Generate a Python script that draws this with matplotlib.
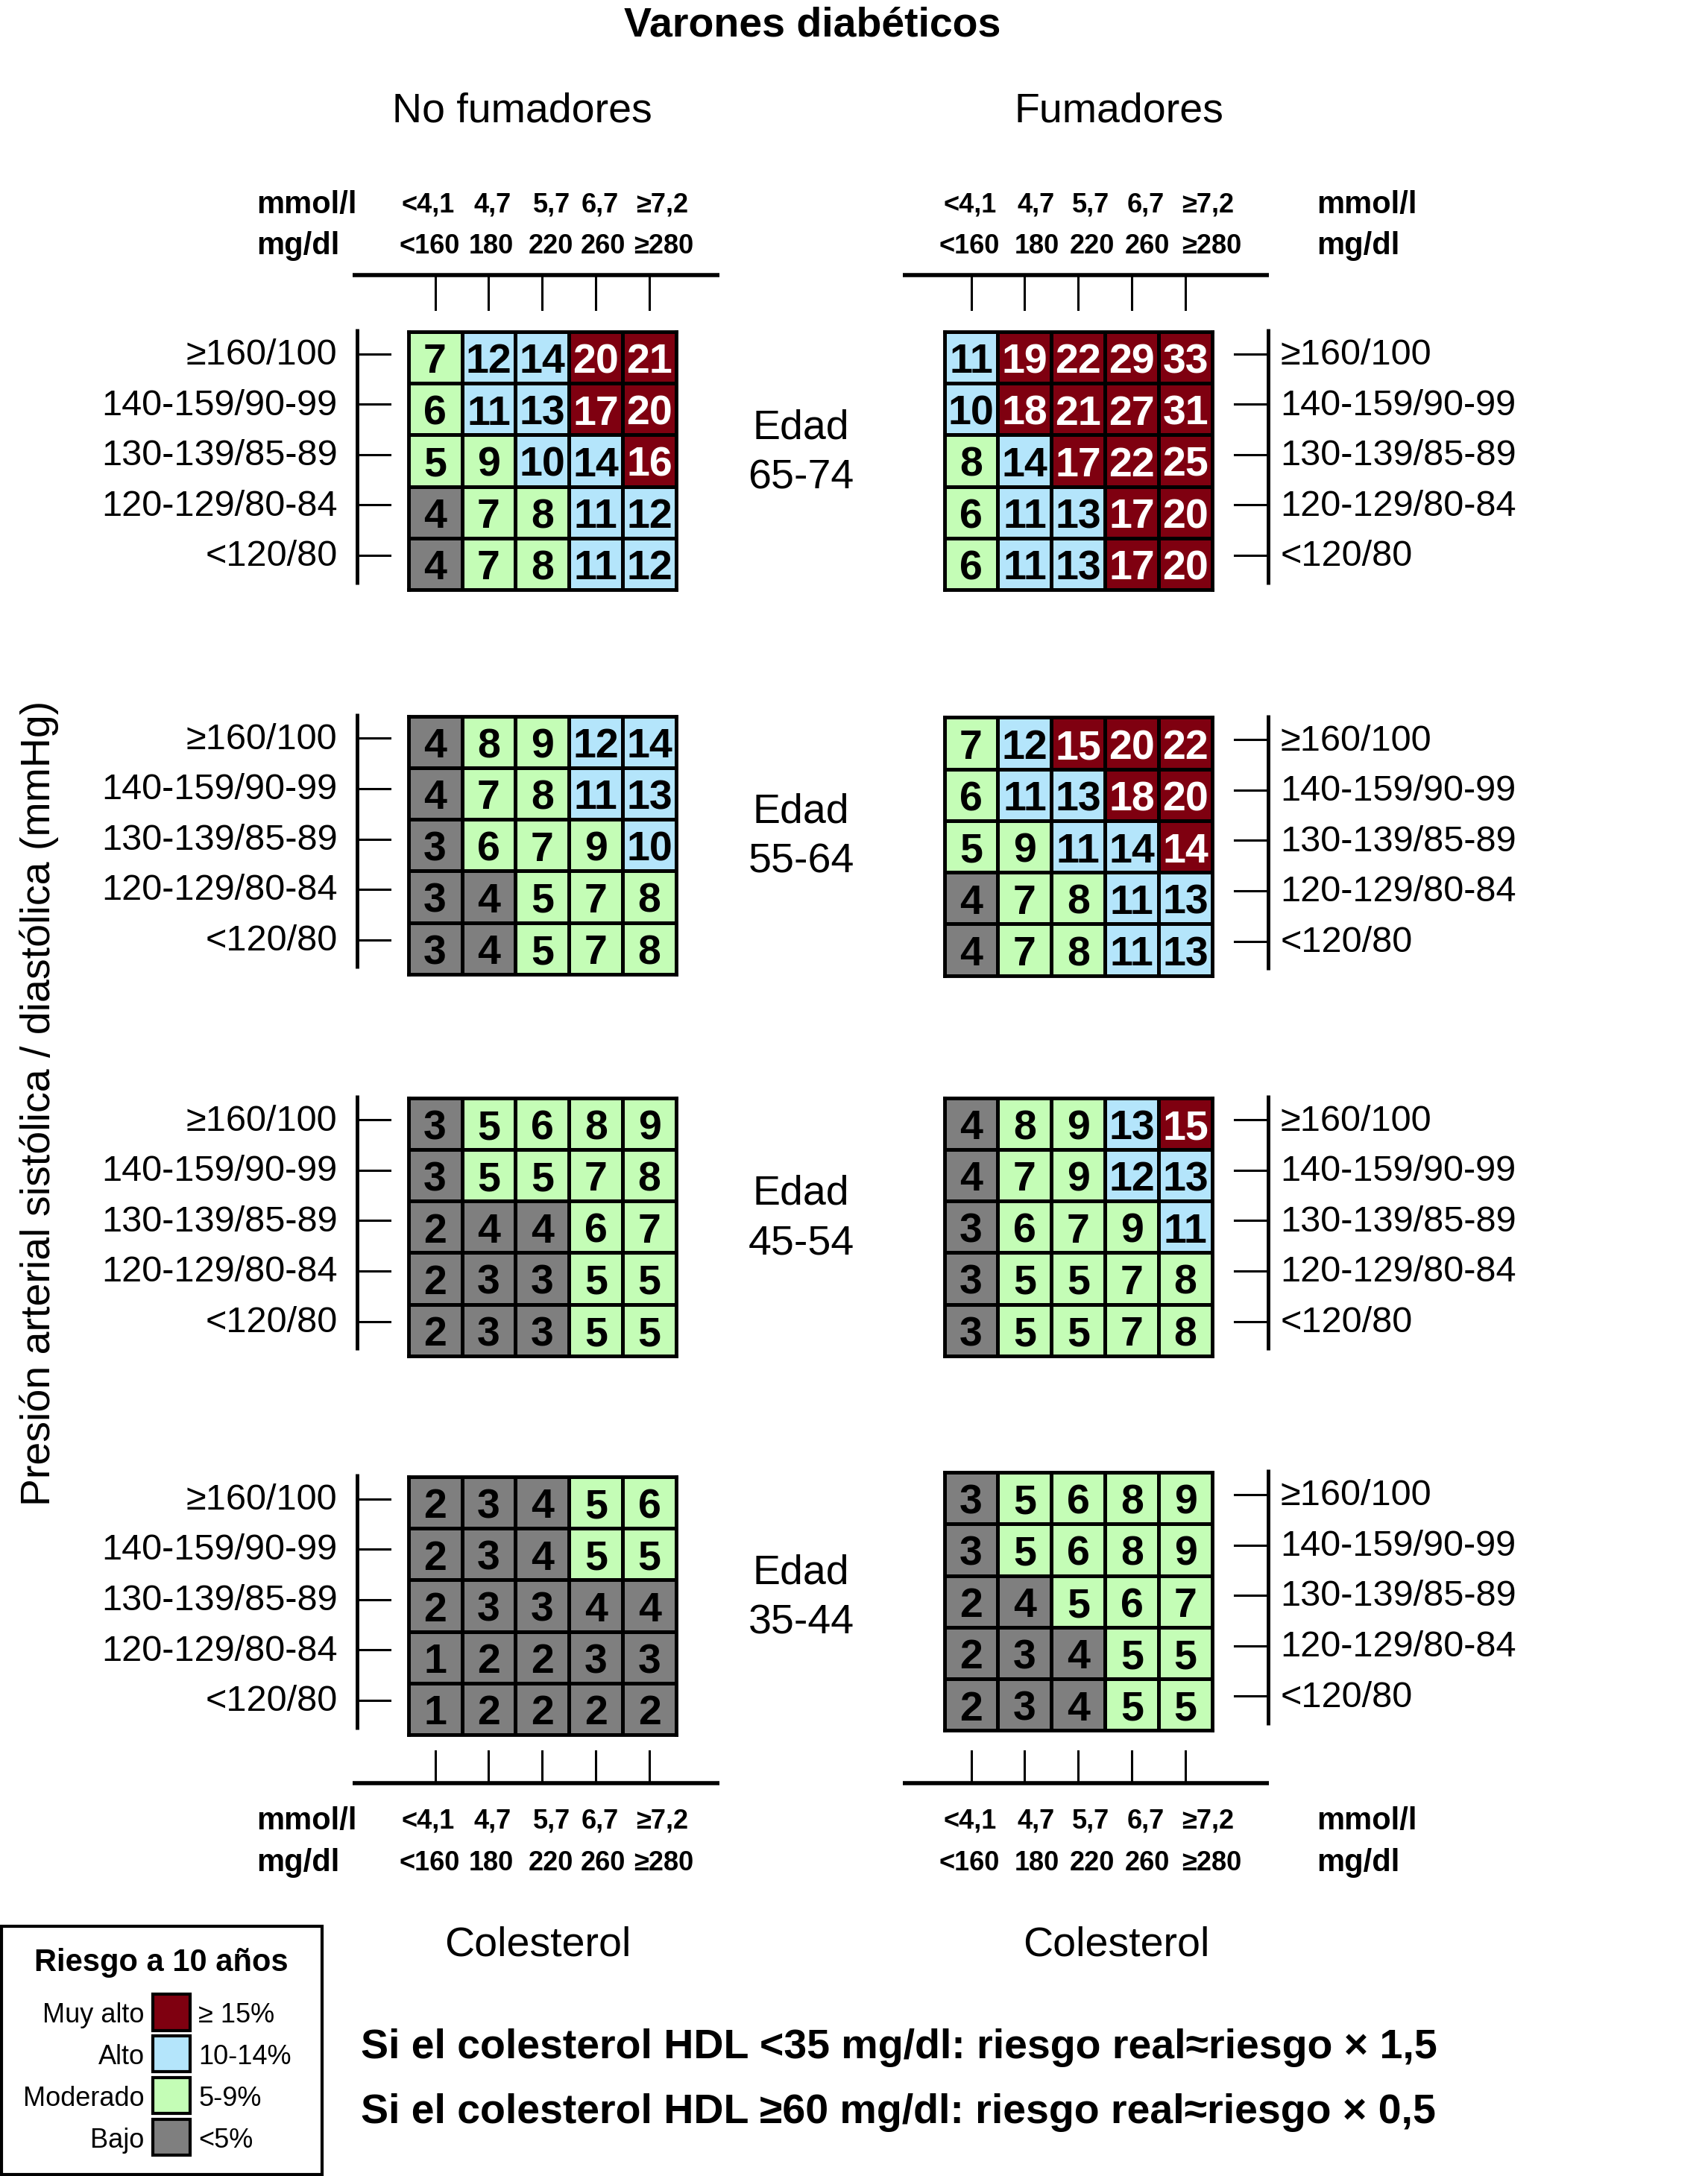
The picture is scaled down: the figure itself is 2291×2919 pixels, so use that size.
import numpy as np
import matplotlib.pyplot as plt
from matplotlib.colors import ListedColormap

plt.rcParams['font.family'] = ['Liberation Sans', 'DejaVu Sans']

ages = ["65-74", "55-64", "45-54", "35-44"]
bp_labels = ["≥160/100", "140-159/90-99", "130-139/85-89", "120-129/80-84", "<120/80"]
mmol_labels = ["<4,1", "4,7", "5,7", "6,7", "≥7,2"]
mgdl_labels = ["<160", "180", "220", "260", "≥280"]

# risk values, rows from >=160/100 down to <120/80, columns by cholesterol
nofum_65_74 = [[7, 12, 14, 20, 21], [6, 11, 13, 17, 20], [5, 9, 10, 14, 16], [4, 7, 8, 11, 12], [4, 7, 8, 11, 12]]
nofum_55_64 = [[4, 8, 9, 12, 14], [4, 7, 8, 11, 13], [3, 6, 7, 9, 10], [3, 4, 5, 7, 8], [3, 4, 5, 7, 8]]
nofum_45_54 = [[3, 5, 6, 8, 9], [3, 5, 5, 7, 8], [2, 4, 4, 6, 7], [2, 3, 3, 5, 5], [2, 3, 3, 5, 5]]
nofum_35_44 = [[2, 3, 4, 5, 6], [2, 3, 4, 5, 5], [2, 3, 3, 4, 4], [1, 2, 2, 3, 3], [1, 2, 2, 2, 2]]

fum_65_74 = [[11, 19, 22, 29, 33], [10, 18, 21, 27, 31], [8, 14, 17, 22, 25], [6, 11, 13, 17, 20], [6, 11, 13, 17, 20]]
fum_55_64 = [[7, 12, 15, 20, 22], [6, 11, 13, 18, 20], [5, 9, 11, 14, 14], [4, 7, 8, 11, 13], [4, 7, 8, 11, 13]]
fum_45_54 = [[4, 8, 9, 13, 15], [4, 7, 9, 12, 13], [3, 6, 7, 9, 11], [3, 5, 5, 7, 8], [3, 5, 5, 7, 8]]
fum_35_44 = [[3, 5, 6, 8, 9], [3, 5, 6, 8, 9], [2, 4, 5, 6, 7], [2, 3, 4, 5, 5], [2, 3, 4, 5, 5]]

# one cell in the original is coloured "muy alto" although it reads 14
fum_55_64_red = [(2, 4)]

risk_names = ["Muy alto", "Alto", "Moderado", "Bajo"]
risk_ranges = ["≥ 15%", "10-14%", "5-9%", "<5%"]
risk_colors = ["#7f0010", "#b4e5fb", "#c4fdb6", "#7f7f7f"]

hdl_notes = ["Si el colesterol HDL <35 mg/dl: riesgo real≈riesgo × 1,5",
             "Si el colesterol HDL ≥60 mg/dl: riesgo real≈riesgo × 0,5"]

# layout, in units of a 1230 x 1568 canvas
W, H = 1230, 1568
dy = 2.5  # text sits a little lower than matplotlib's centre
fig = plt.figure(figsize=(22.91, 29.19), dpi=100)
bg = fig.add_axes([0, 0, 1, 1])
bg.set_xlim(0, W)
bg.set_ylim(H, 0)
bg.axis('off')

cmap = ListedColormap(risk_colors[::-1])
gw, gh = 193, 186
cw = gw / 5.0
sides = [
    dict(x0=294, tops=[239, 516, 791, 1064], grids=[nofum_65_74, nofum_55_64, nofum_45_54, nofum_35_44],
         axis_x=257, tick_dir=1, lab_x=243, lab_ha='right', line=(254, 518),
         mmol_dx=[-5, 3, 7, 3, 9], mg_dx=[-4, 2, 6, 5, 10], unit_x=185, title="No fumadores", title_x=376,
         col_x=387),
    dict(x0=680, tops=[239, 517, 791, 1061], grids=[fum_65_74, fum_55_64, fum_45_54, fum_35_44],
         axis_x=913, tick_dir=-1, lab_x=922, lab_ha='left', line=(650, 914),
         mmol_dx=[-1, 8, 9, 10, 16], mg_dx=[-1, 9, 10, 11, 19], unit_x=948, title="Fumadores", title_x=806,
         col_x=804),
]
overrides = {(1, 1): fum_55_64_red}

for si, s in enumerate(sides):
    for gi, grid in enumerate(s['grids']):
        vals = np.array(grid)
        lvl = np.digitize(vals, [5, 10, 15])
        for (r, c) in overrides.get((si, gi), []):
            lvl[r, c] = 3
        top = s['tops'][gi]
        ax = fig.add_axes([s['x0'] / W, 1 - (top + gh) / H, gw / W, gh / H])
        ax.pcolormesh(lvl, cmap=cmap, vmin=-0.5, vmax=3.5, edgecolors='black', linewidth=2.5)
        ax.set_xlim(0, 5)
        ax.set_ylim(5, 0)
        ax.set_xticks([])
        ax.set_yticks([])
        for sp in ax.spines.values():
            sp.set_linewidth(3.5)
        for r in range(5):
            for c in range(5):
                ax.text(c + 0.5, r + 0.6, str(vals[r, c]), ha='center', va='center',
                        fontsize=40, fontweight='bold', color='white' if lvl[r, c] == 3 else 'black')
        # blood pressure axis
        ax_x = s['axis_x']
        bg.plot([ax_x, ax_x], [top - 2, top + 182], color='black', lw=3.5, solid_capstyle='butt')
        for r in range(5):
            ty = top + 16 + r * 36.3
            bg.plot([ax_x, ax_x + s['tick_dir'] * 24], [ty, ty], color='black', lw=2.2)
            bg.text(s['lab_x'], ty + 1, bp_labels[r], ha=s['lab_ha'], va='center', fontsize=35)
        if si == 0:
            bg.text(577, top + 67 + dy, "Edad", ha='center', va='center', fontsize=40)
            bg.text(577, top + 103 + dy, ages[gi], ha='center', va='center', fontsize=40)

    # cholesterol axes, top and bottom
    col_c = [s['x0'] + cw * (c + 0.5) for c in range(5)]
    for line_y, t0, t1, y_mm, y_mg in [(198, 200, 223, 145, 175), (1285, 1262, 1284, 1310, 1340)]:
        bg.plot(list(s['line']), [line_y, line_y], color='black', lw=4, solid_capstyle='butt')
        for c in range(5):
            bg.plot([col_c[c], col_c[c]], [t0, t1], color='black', lw=2.2)
            bg.text(col_c[c] + s['mmol_dx'][c], y_mm + dy, mmol_labels[c], ha='center', va='center',
                    fontsize=26, fontweight='bold')
            bg.text(col_c[c] + s['mg_dx'][c], y_mg + dy, mgdl_labels[c], ha='center', va='center',
                    fontsize=26, fontweight='bold')
        bg.text(s['unit_x'], y_mm + dy, "mmol/l", ha='left', va='center', fontsize=30, fontweight='bold')
        bg.text(s['unit_x'], y_mg + dy, "mg/dl", ha='left', va='center', fontsize=30, fontweight='bold')
    bg.text(s['title_x'], 78 + dy, s['title'], ha='center', va='center', fontsize=40)
    bg.text(s['col_x'], 1399 + dy, "Colesterol", ha='center', va='center', fontsize=40)

bg.text(585, 16 + dy, "Varones diabéticos", ha='center', va='center', fontsize=40, fontweight='bold')
bg.text(28, 795, "Presión arterial sistólica / diastólica (mmHg)", ha='center', va='center',
        rotation=90, fontsize=40)

# legend box
bg.add_patch(plt.Rectangle((1, 1388), 231, 179, fill=False, edgecolor='black', lw=3))
bg.text(116, 1412 + dy, "Riesgo a 10 años", ha='center', va='center', fontsize=30, fontweight='bold')
for i, (name, rng, colr) in enumerate(zip(risk_names, risk_ranges, risk_colors)):
    yy = 1450 + i * 30
    bg.add_patch(plt.Rectangle((110, yy - 13), 27, 26, facecolor=colr, edgecolor='black', lw=3))
    bg.text(104, yy + dy, name, ha='right', va='center', fontsize=26)
    bg.text(143, yy + dy, rng, ha='left', va='center', fontsize=26)

for i, note in enumerate(hdl_notes):
    bg.text(260, 1473 + i * 47 + dy, note, ha='left', va='center', fontsize=40, fontweight='bold')

fig.savefig("out.png", dpi=100)
